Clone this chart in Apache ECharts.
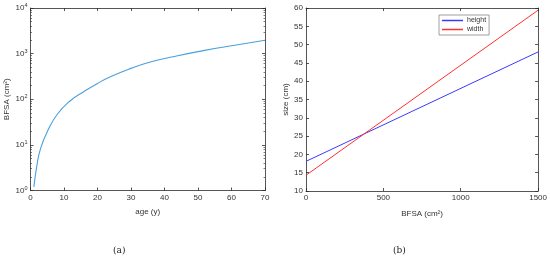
<!DOCTYPE html>
<html>
<head>
<meta charset="utf-8">
<script src="https://cdn.jsdelivr.net/npm/echarts@6/dist/echarts.min.js"></script>
<style>
  html, body { margin: 0; padding: 0; background: #fff; }
  #chart { width: 550px; height: 259px; }
</style>
</head>
<body>
<div id="chart"></div>
<script>
// (a) body surface area vs age
const ages = [1, 2, 3, 5, 8, 12, 16, 20, 24, 30, 36, 42, 52, 61, 70];
const bfsa = [1.2, 3.9, 8.3, 19.5, 47, 94, 148, 222, 315, 475, 665, 840, 1180, 1530, 1960];

// (b) size vs BFSA
const bfsaX = [0, 1500];
const heightVals = [18.1, 48.0];
const widthVals = [14.3, 59.4];

const font = '"Liberation Sans", Arial, sans-serif';
const axisCol = '#2b2b2b';

const labelStyle = { fontFamily: font, fontSize: 8, color: '#333', margin: 3, formatter: v => String(v) };
const nameStyle = { fontFamily: font, fontSize: 8, color: '#333' };

function boxAxis(extra) {
  return Object.assign({
    axisLine: { show: true, onZero: false, lineStyle: { color: axisCol, width: 0.8 } },
    axisTick: { show: true, inside: true, length: 3, lineStyle: { color: axisCol, width: 0.8 } },
    splitLine: { show: false },
    axisLabel: labelStyle,
    nameTextStyle: nameStyle
  }, extra);
}

function hiddenLabels(extra) {
  const a = boxAxis(extra);
  a.axisLabel = { show: false };
  return a;
}

const minor = { show: true, splitNumber: 9, length: 1.5, lineStyle: { color: axisCol, width: 0.6 } };

const chart = echarts.init(document.getElementById('chart'));

chart.setOption({
  animation: false,
  backgroundColor: '#fff',
  title: [
    { text: '(a)', left: 108, top: 241, textStyle: { fontFamily: '"DejaVu Serif", "Liberation Serif", serif', fontSize: 9, fontWeight: 'normal', color: '#222' } },
    { text: '(b)', left: 388, top: 241, textStyle: { fontFamily: '"DejaVu Serif", "Liberation Serif", serif', fontSize: 9, fontWeight: 'normal', color: '#222' } }
  ],
  grid: [
    { left: 30.5, top: 8, width: 234.5, height: 182.5 },
    { left: 306, top: 8, width: 234, height: 183 }
  ],
  legend: {
    left: 439, top: 15,
    orient: 'vertical',
    data: ['height', 'width'],
    icon: 'rect',
    itemWidth: 21, itemHeight: 1.5,
    itemGap: 2,
    padding: [2, 3, 2, 3],
    borderColor: '#888', borderWidth: 0.8,
    textStyle: { fontFamily: font, fontSize: 7, color: '#333', padding: [0, 4, 0, -1] }
  },
  xAxis: [
    boxAxis({ gridIndex: 0, type: 'value', min: 0, max: 70, interval: 10, name: 'age (y)', nameLocation: 'middle', nameGap: 17 }),
    hiddenLabels({ gridIndex: 0, type: 'value', min: 0, max: 70, interval: 10, position: 'top' }),
    boxAxis({ gridIndex: 1, type: 'value', min: 0, max: 1500, interval: 500, name: 'BFSA (cm²)', nameLocation: 'middle', nameGap: 19 }),
    hiddenLabels({ gridIndex: 1, type: 'value', min: 0, max: 1500, interval: 500, position: 'top' })
  ],
  yAxis: [
    boxAxis({
      gridIndex: 0, type: 'log', logBase: 10, min: 1, max: 10000,
      name: 'BFSA (cm²)', nameLocation: 'middle', nameGap: 20,
      minorTick: minor,
      axisLabel: Object.assign({}, labelStyle, {
        formatter: v => '10{s|' + Math.round(Math.log10(v)) + '}',
        rich: { s: { fontSize: 5.5, fontFamily: font, color: '#333', padding: [0, 0, 5, 0] } }
      })
    }),
    hiddenLabels({ gridIndex: 0, type: 'log', logBase: 10, min: 1, max: 10000, position: 'right', minorTick: minor }),
    boxAxis({ gridIndex: 1, type: 'value', min: 10, max: 60, interval: 5, name: 'size (cm)', nameLocation: 'middle', nameGap: 16 }),
    hiddenLabels({ gridIndex: 1, type: 'value', min: 10, max: 60, interval: 5, position: 'right' })
  ],
  series: [
    {
      type: 'line', xAxisIndex: 0, yAxisIndex: 0,
      data: ages.map((a, i) => [a, bfsa[i]]),
      smooth: 0.5, showSymbol: false,
      lineStyle: { color: '#4a9fdc', width: 1.1 }
    },
    {
      name: 'height', type: 'line', xAxisIndex: 2, yAxisIndex: 2,
      data: bfsaX.map((x, i) => [x, heightVals[i]]),
      showSymbol: false, color: '#3a3aff',
      lineStyle: { color: '#3a3aff', width: 1 }
    },
    {
      name: 'width', type: 'line', xAxisIndex: 2, yAxisIndex: 2,
      data: bfsaX.map((x, i) => [x, widthVals[i]]),
      showSymbol: false, color: '#ff3030',
      lineStyle: { color: '#ff3030', width: 1 }
    }
  ]
});
</script>
</body>
</html>
